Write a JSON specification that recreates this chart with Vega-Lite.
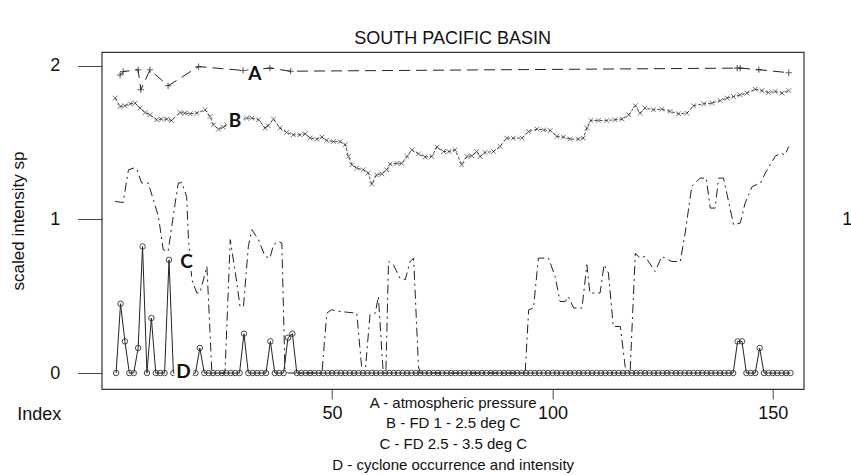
{
  "$schema": "https://vega.github.io/schema/vega-lite/v6.json",
  "autosize": {"type": "none"},
  "padding": {"left": 101.7, "top": 52, "right": 47.3, "bottom": 86},
  "width": 702,
  "height": 337,
  "background": "white",
  "title": {"text": "SOUTH PACIFIC BASIN", "fontSize": 18, "fontWeight": "normal", "font": "Liberation Sans", "color": "#111", "frame": "group", "anchor": "middle", "offset": 4},
  "config": {
    "font": "Liberation Sans",
    "view": {"stroke": "#333", "strokeWidth": 1.2},
    "axis": {"grid": false, "labelColor": "#111", "titleColor": "#111", "tickColor": "#444", "labelFont": "Liberation Sans", "titleFont": "Liberation Sans"}
  },
  "datasets": {
    "A": [
      {"idx": 1.9, "val": 1.94}, {"idx": 2.6, "val": 1.963}, {"idx": 6.0, "val": 1.974}, {"idx": 6.6, "val": 1.844},
      {"idx": 8.7, "val": 1.974}, {"idx": 12.8, "val": 1.87}, {"idx": 19.7, "val": 1.995}, {"idx": 29.8, "val": 1.97},
      {"idx": 35.9, "val": 1.985}, {"idx": 40.6, "val": 1.965}, {"idx": 141.9, "val": 1.985}, {"idx": 142.6, "val": 1.985},
      {"idx": 146.8, "val": 1.975}, {"idx": 153.6, "val": 1.955}
    ],
    "B": [
      {"idx": 0.8, "val": 1.79}, {"idx": 1.9, "val": 1.735}, {"idx": 3, "val": 1.74}, {"idx": 4.2, "val": 1.753}, {"idx": 5.3, "val": 1.757},
      {"idx": 6.4, "val": 1.725}, {"idx": 7.6, "val": 1.696}, {"idx": 8.7, "val": 1.681}, {"idx": 10.2, "val": 1.649}, {"idx": 11.3, "val": 1.653},
      {"idx": 12.5, "val": 1.653}, {"idx": 13.6, "val": 1.644}, {"idx": 15.5, "val": 1.696}, {"idx": 16.6, "val": 1.692}, {"idx": 17.8, "val": 1.688},
      {"idx": 19.3, "val": 1.692}, {"idx": 21.2, "val": 1.714}, {"idx": 22.3, "val": 1.67}, {"idx": 23.1, "val": 1.616}, {"idx": 24.2, "val": 1.588},
      {"idx": 25.3, "val": 1.601}, {"idx": 26.1, "val": 1.616}, {"idx": 30.6, "val": 1.66}, {"idx": 31.8, "val": 1.66}, {"idx": 33.3, "val": 1.649},
      {"idx": 34.8, "val": 1.595}, {"idx": 35.5, "val": 1.61}, {"idx": 36.7, "val": 1.653}, {"idx": 38.2, "val": 1.595}, {"idx": 39.7, "val": 1.566},
      {"idx": 41.2, "val": 1.551}, {"idx": 42.7, "val": 1.551}, {"idx": 43.9, "val": 1.557}, {"idx": 45, "val": 1.53}, {"idx": 46.5, "val": 1.523},
      {"idx": 47.7, "val": 1.536}, {"idx": 48.8, "val": 1.514}, {"idx": 50.3, "val": 1.507}, {"idx": 51.8, "val": 1.507}, {"idx": 53, "val": 1.486},
      {"idx": 53.7, "val": 1.41}, {"idx": 54.5, "val": 1.356}, {"idx": 55.6, "val": 1.334}, {"idx": 57.1, "val": 1.323}, {"idx": 58.2, "val": 1.302},
      {"idx": 59, "val": 1.23}, {"idx": 60.1, "val": 1.29}, {"idx": 61.3, "val": 1.297}, {"idx": 62.4, "val": 1.323}, {"idx": 63.2, "val": 1.36},
      {"idx": 64.7, "val": 1.365}, {"idx": 65.8, "val": 1.365}, {"idx": 67, "val": 1.41}, {"idx": 68.1, "val": 1.453}, {"idx": 69.6, "val": 1.427},
      {"idx": 71.1, "val": 1.406}, {"idx": 72.6, "val": 1.41}, {"idx": 73.8, "val": 1.471}, {"idx": 75.3, "val": 1.442}, {"idx": 76.5, "val": 1.442},
      {"idx": 77.9, "val": 1.453}, {"idx": 79.4, "val": 1.356}, {"idx": 80.6, "val": 1.41}, {"idx": 81.7, "val": 1.414}, {"idx": 82.8, "val": 1.442},
      {"idx": 83.6, "val": 1.41}, {"idx": 84.7, "val": 1.436}, {"idx": 86.6, "val": 1.442}, {"idx": 88.1, "val": 1.475}, {"idx": 89.6, "val": 1.529},
      {"idx": 91.1, "val": 1.529}, {"idx": 93.1, "val": 1.529}, {"idx": 94.6, "val": 1.572}, {"idx": 96.5, "val": 1.588}, {"idx": 98, "val": 1.583},
      {"idx": 99.5, "val": 1.579}, {"idx": 101, "val": 1.54}, {"idx": 102.5, "val": 1.536}, {"idx": 104, "val": 1.523}, {"idx": 105.9, "val": 1.523},
      {"idx": 107, "val": 1.529}, {"idx": 107.8, "val": 1.595}, {"idx": 108.7, "val": 1.644}, {"idx": 110.4, "val": 1.644}, {"idx": 112.3, "val": 1.644},
      {"idx": 114.2, "val": 1.649}, {"idx": 115.8, "val": 1.653}, {"idx": 117.3, "val": 1.681}, {"idx": 118.8, "val": 1.74}, {"idx": 119.9, "val": 1.692},
      {"idx": 121, "val": 1.725}, {"idx": 122.9, "val": 1.714}, {"idx": 124.8, "val": 1.718}, {"idx": 126.7, "val": 1.703}, {"idx": 128.6, "val": 1.688},
      {"idx": 130.5, "val": 1.692}, {"idx": 132, "val": 1.74}, {"idx": 134.3, "val": 1.753}, {"idx": 136.2, "val": 1.757}, {"idx": 138.1, "val": 1.774},
      {"idx": 139.6, "val": 1.79}, {"idx": 141.1, "val": 1.8}, {"idx": 142.6, "val": 1.811}, {"idx": 144.1, "val": 1.822}, {"idx": 146, "val": 1.848},
      {"idx": 147.5, "val": 1.839}, {"idx": 149, "val": 1.826}, {"idx": 150.5, "val": 1.833}, {"idx": 152.1, "val": 1.822}, {"idx": 153.6, "val": 1.839}
    ],
    "C": [
      {"idx": 0.8, "val": 1.117}, {"idx": 2.6, "val": 1.11}, {"idx": 3.8, "val": 1.323}, {"idx": 4.9, "val": 1.334}, {"idx": 5.7, "val": 1.328},
      {"idx": 6.8, "val": 1.237}, {"idx": 8.3, "val": 1.237}, {"idx": 10.6, "val": 1.019}, {"idx": 11.7, "val": 0.802}, {"idx": 12.8, "val": 0.791},
      {"idx": 14.4, "val": 1.106}, {"idx": 15.1, "val": 1.237}, {"idx": 15.9, "val": 1.24}, {"idx": 17, "val": 1.149}, {"idx": 17.4, "val": 0.878},
      {"idx": 18.2, "val": 0.607}, {"idx": 19.3, "val": 0.521}, {"idx": 20, "val": 0.521}, {"idx": 21.6, "val": 0.694}, {"idx": 22.7, "val": 0.02},
      {"idx": 23.1, "val": 0}, {"idx": 25.7, "val": 0}, {"idx": 26.9, "val": 0.868}, {"idx": 28.4, "val": 0.586}, {"idx": 29.1, "val": 0.434},
      {"idx": 29.9, "val": 0.434}, {"idx": 31, "val": 0.824}, {"idx": 31.8, "val": 0.933}, {"idx": 33.3, "val": 0.868}, {"idx": 34.8, "val": 0.759},
      {"idx": 35.9, "val": 0.748}, {"idx": 36.7, "val": 0.835}, {"idx": 37.8, "val": 0.857}, {"idx": 38.6, "val": 0.846}, {"idx": 39.3, "val": 0.02},
      {"idx": 40, "val": 0}, {"idx": 47.7, "val": 0}, {"idx": 48.8, "val": 0.39}, {"idx": 49.9, "val": 0.412}, {"idx": 51.8, "val": 0.401},
      {"idx": 53.7, "val": 0.395}, {"idx": 55.6, "val": 0.39}, {"idx": 56.7, "val": 0.04}, {"idx": 57.6, "val": 0.04}, {"idx": 58.6, "val": 0.38},
      {"idx": 59.8, "val": 0.39}, {"idx": 60.5, "val": 0.499}, {"idx": 61.6, "val": 0}, {"idx": 62.2, "val": 0}, {"idx": 62.8, "val": 0.726},
      {"idx": 63.9, "val": 0.705}, {"idx": 65.4, "val": 0.618}, {"idx": 66.6, "val": 0.607}, {"idx": 67.7, "val": 0.726}, {"idx": 68.5, "val": 0.748},
      {"idx": 69.6, "val": 0.04}, {"idx": 70, "val": 0}, {"idx": 93.8, "val": 0}, {"idx": 94.6, "val": 0.412}, {"idx": 95.7, "val": 0.423},
      {"idx": 96.8, "val": 0.748}, {"idx": 99.1, "val": 0.748}, {"idx": 100.6, "val": 0.629}, {"idx": 101.7, "val": 0.466}, {"idx": 102.9, "val": 0.466},
      {"idx": 103.6, "val": 0.499}, {"idx": 104.8, "val": 0.423}, {"idx": 106.7, "val": 0.423}, {"idx": 107.8, "val": 0.705}, {"idx": 108.5, "val": 0.521},
      {"idx": 110.8, "val": 0.521}, {"idx": 111.7, "val": 0.705}, {"idx": 112.7, "val": 0.651}, {"idx": 113.8, "val": 0.303}, {"idx": 115.4, "val": 0.303},
      {"idx": 116.5, "val": 0.04}, {"idx": 117.6, "val": 0}, {"idx": 118.8, "val": 0.781}, {"idx": 119.9, "val": 0.748}, {"idx": 121, "val": 0.759},
      {"idx": 123.3, "val": 0.661}, {"idx": 124.8, "val": 0.759}, {"idx": 127.1, "val": 0.726}, {"idx": 129, "val": 0.726}, {"idx": 130.1, "val": 0.911},
      {"idx": 131.6, "val": 1.214}, {"idx": 133.5, "val": 1.269}, {"idx": 134.9, "val": 1.269}, {"idx": 135.8, "val": 1.074}, {"idx": 136.9, "val": 1.074},
      {"idx": 137.7, "val": 1.269}, {"idx": 138.8, "val": 1.269}, {"idx": 141.1, "val": 0.965}, {"idx": 142.6, "val": 0.976}, {"idx": 143.7, "val": 1.106},
      {"idx": 145.3, "val": 1.214}, {"idx": 147.2, "val": 1.237}, {"idx": 148.3, "val": 1.302}, {"idx": 149.4, "val": 1.356}, {"idx": 150.5, "val": 1.41},
      {"idx": 151.7, "val": 1.432}, {"idx": 152.8, "val": 1.421}, {"idx": 153.6, "val": 1.475}
    ],
    "D": [
      {"idx": 1, "val": 0}, {"idx": 2, "val": 0.451}, {"idx": 3, "val": 0.206}, {"idx": 4, "val": 0}, {"idx": 5, "val": 0},
      {"idx": 6, "val": 0.163}, {"idx": 7, "val": 0.824}, {"idx": 8, "val": 0}, {"idx": 9, "val": 0.358}, {"idx": 10, "val": 0},
      {"idx": 11, "val": 0}, {"idx": 12, "val": 0}, {"idx": 13, "val": 0.737}, {"idx": 14, "val": 0}, {"idx": 15, "val": 0},
      {"idx": 16, "val": 0}, {"idx": 17, "val": 0}, {"idx": 18, "val": 0}, {"idx": 19, "val": 0}, {"idx": 20, "val": 0.163},
      {"idx": 21, "val": 0}, {"idx": 22, "val": 0}, {"idx": 23, "val": 0}, {"idx": 24, "val": 0}, {"idx": 25, "val": 0},
      {"idx": 26, "val": 0}, {"idx": 27, "val": 0}, {"idx": 28, "val": 0}, {"idx": 29, "val": 0}, {"idx": 30, "val": 0.256},
      {"idx": 31, "val": 0}, {"idx": 32, "val": 0}, {"idx": 33, "val": 0}, {"idx": 34, "val": 0}, {"idx": 35, "val": 0},
      {"idx": 36, "val": 0.206}, {"idx": 37, "val": 0}, {"idx": 38, "val": 0}, {"idx": 39, "val": 0}, {"idx": 40, "val": 0.23},
      {"idx": 41, "val": 0.256}, {"idx": 42, "val": 0}, {"idx": 43, "val": 0}, {"idx": 44, "val": 0}, {"idx": 45, "val": 0},
      {"idx": 46, "val": 0}, {"idx": 47, "val": 0}, {"idx": 48, "val": 0}, {"idx": 49, "val": 0}, {"idx": 50, "val": 0},
      {"idx": 51, "val": 0}, {"idx": 52, "val": 0}, {"idx": 53, "val": 0}, {"idx": 54, "val": 0}, {"idx": 55, "val": 0},
      {"idx": 56, "val": 0}, {"idx": 57, "val": 0}, {"idx": 58, "val": 0}, {"idx": 59, "val": 0}, {"idx": 60, "val": 0},
      {"idx": 61, "val": 0}, {"idx": 62, "val": 0}, {"idx": 63, "val": 0}, {"idx": 64, "val": 0}, {"idx": 65, "val": 0},
      {"idx": 66, "val": 0}, {"idx": 67, "val": 0}, {"idx": 68, "val": 0}, {"idx": 69, "val": 0}, {"idx": 70, "val": 0},
      {"idx": 71, "val": 0}, {"idx": 72, "val": 0}, {"idx": 73, "val": 0}, {"idx": 74, "val": 0}, {"idx": 75, "val": 0},
      {"idx": 76, "val": 0}, {"idx": 77, "val": 0}, {"idx": 78, "val": 0}, {"idx": 79, "val": 0}, {"idx": 80, "val": 0},
      {"idx": 81, "val": 0}, {"idx": 82, "val": 0}, {"idx": 83, "val": 0}, {"idx": 84, "val": 0}, {"idx": 85, "val": 0},
      {"idx": 86, "val": 0}, {"idx": 87, "val": 0}, {"idx": 88, "val": 0}, {"idx": 89, "val": 0}, {"idx": 90, "val": 0},
      {"idx": 91, "val": 0}, {"idx": 92, "val": 0}, {"idx": 93, "val": 0}, {"idx": 94, "val": 0}, {"idx": 95, "val": 0},
      {"idx": 96, "val": 0}, {"idx": 97, "val": 0}, {"idx": 98, "val": 0}, {"idx": 99, "val": 0}, {"idx": 100, "val": 0},
      {"idx": 101, "val": 0}, {"idx": 102, "val": 0}, {"idx": 103, "val": 0}, {"idx": 104, "val": 0}, {"idx": 105, "val": 0},
      {"idx": 106, "val": 0}, {"idx": 107, "val": 0}, {"idx": 108, "val": 0}, {"idx": 109, "val": 0}, {"idx": 110, "val": 0},
      {"idx": 111, "val": 0}, {"idx": 112, "val": 0}, {"idx": 113, "val": 0}, {"idx": 114, "val": 0}, {"idx": 115, "val": 0},
      {"idx": 116, "val": 0}, {"idx": 117, "val": 0}, {"idx": 118, "val": 0}, {"idx": 119, "val": 0}, {"idx": 120, "val": 0},
      {"idx": 121, "val": 0}, {"idx": 122, "val": 0}, {"idx": 123, "val": 0}, {"idx": 124, "val": 0}, {"idx": 125, "val": 0},
      {"idx": 126, "val": 0}, {"idx": 127, "val": 0}, {"idx": 128, "val": 0}, {"idx": 129, "val": 0}, {"idx": 130, "val": 0},
      {"idx": 131, "val": 0}, {"idx": 132, "val": 0}, {"idx": 133, "val": 0}, {"idx": 134, "val": 0}, {"idx": 135, "val": 0},
      {"idx": 136, "val": 0}, {"idx": 137, "val": 0}, {"idx": 138, "val": 0}, {"idx": 139, "val": 0}, {"idx": 140, "val": 0},
      {"idx": 141, "val": 0}, {"idx": 142, "val": 0.206}, {"idx": 143, "val": 0.206}, {"idx": 144, "val": 0}, {"idx": 145, "val": 0},
      {"idx": 146, "val": 0}, {"idx": 147, "val": 0.163}, {"idx": 148, "val": 0}, {"idx": 149, "val": 0}, {"idx": 150, "val": 0},
      {"idx": 151, "val": 0}, {"idx": 152, "val": 0}, {"idx": 153, "val": 0}, {"idx": 154, "val": 0}
    ],
    "L": [
      {"label": "A", "idx": 32.5, "val": 1.948},
      {"label": "B", "idx": 28.0, "val": 1.638},
      {"label": "C", "idx": 17.0, "val": 0.72},
      {"label": "D", "idx": 16.3, "val": 0.004}
    ]
  },
  "resolve": {"axis": {"x": "independent", "y": "independent"}},
  "layer": [
    {
      "data": {"name": "A"},
      "mark": {"type": "line", "color": "#222", "strokeWidth": 1, "strokeDash": [11, 6], "clip": true},
      "encoding": {
        "x": {"field": "idx", "type": "quantitative", "scale": {"domain": [-2.27, 157], "nice": false, "zero": false},
          "axis": {"orient": "bottom", "values": [50, 100, 150], "domain": false, "tickSize": 10, "labelPadding": 5, "labelFontSize": 18,
            "title": ["A - atmospheric pressure", "B - FD 1 - 2.5 deg C", "C - FD 2.5 - 3.5 deg C", "D - cyclone occurrence and intensity"],
            "titleFontSize": 15, "titleFontWeight": "normal", "titleLineHeight": 20.7, "titleX": 351, "titleY": 6, "titleAlign": "center", "titleBaseline": "top"}},
        "y": {"field": "val", "type": "quantitative", "scale": {"domain": [-0.104, 2.09], "nice": false, "zero": false},
          "axis": {"orient": "left", "values": [0, 1, 2], "domain": false, "tickSize": 24, "labelPadding": 18, "labelFontSize": 18,
            "title": "scaled intensity sp", "titleFontSize": 17, "titleFontWeight": "normal", "titleX": -83, "titleY": 168.5, "titleAngle": -90, "titleAlign": "center", "titleBaseline": "middle"}}
      }
    },
    {
      "data": {"name": "A"},
      "mark": {"type": "point", "shape": "M-1,0L1,0M0,-1L0,1", "filled": false, "stroke": "#222", "strokeWidth": 1.1, "size": 40},
      "encoding": {
        "x": {"field": "idx", "type": "quantitative", "axis": null},
        "y": {"field": "val", "type": "quantitative", "axis": null}
      }
    },
    {
      "data": {"name": "B"},
      "mark": {"type": "line", "color": "#333", "strokeWidth": 0.9, "strokeDash": [3, 2]},
      "encoding": {
        "x": {"field": "idx", "type": "quantitative", "axis": null},
        "y": {"field": "val", "type": "quantitative", "axis": null}
      }
    },
    {
      "data": {"name": "B"},
      "mark": {"type": "point", "shape": "M-1,-1L1,1M-1,1L1,-1", "filled": false, "stroke": "#222", "strokeWidth": 0.9, "size": 22},
      "encoding": {
        "x": {"field": "idx", "type": "quantitative", "axis": null},
        "y": {"field": "val", "type": "quantitative", "axis": null}
      }
    },
    {
      "data": {"name": "C"},
      "mark": {"type": "line", "color": "#222", "strokeWidth": 1, "strokeDash": [9, 4, 2, 4]},
      "encoding": {
        "x": {"field": "idx", "type": "quantitative", "axis": null},
        "y": {"field": "val", "type": "quantitative", "axis": null}
      }
    },
    {
      "data": {"name": "D"},
      "mark": {"type": "line", "color": "#222", "strokeWidth": 1},
      "encoding": {
        "x": {"field": "idx", "type": "quantitative", "axis": null},
        "y": {"field": "val", "type": "quantitative", "axis": null}
      }
    },
    {
      "data": {"name": "D"},
      "mark": {"type": "point", "shape": "circle", "filled": false, "stroke": "#333", "strokeWidth": 0.9, "size": 30, "fill": "white", "fillOpacity": 0},
      "encoding": {
        "x": {"field": "idx", "type": "quantitative", "axis": null},
        "y": {"field": "val", "type": "quantitative", "axis": null}
      }
    },
    {
      "data": {"name": "L"},
      "mark": {"type": "text", "font": "Lato", "fontWeight": "bold", "fontSize": 19, "fill": "white", "stroke": "white", "strokeWidth": 7, "strokeJoin": "round", "align": "center", "baseline": "middle"},
      "encoding": {
        "x": {"field": "idx", "type": "quantitative", "axis": null},
        "y": {"field": "val", "type": "quantitative", "axis": null},
        "text": {"field": "label"}
      }
    },
    {
      "data": {"name": "L"},
      "mark": {"type": "text", "font": "Lato", "fontWeight": "bold", "fontSize": 19, "color": "#111", "align": "center", "baseline": "middle"},
      "encoding": {
        "x": {"field": "idx", "type": "quantitative",
          "axis": {"orient": "top", "values": [], "labels": false, "ticks": false, "domain": false, "title": "Index",
            "titleFontSize": 18, "titleFontWeight": "normal", "titleX": -63, "titleY": 362, "titleAlign": "center", "titleBaseline": "middle", "titleAngle": 0}},
        "y": {"field": "val", "type": "quantitative",
          "axis": {"orient": "right", "values": [1], "ticks": false, "domain": false, "labelPadding": 38, "labelFontSize": 18, "title": null}},
        "text": {"field": "label"}
      }
    }
  ]
}
